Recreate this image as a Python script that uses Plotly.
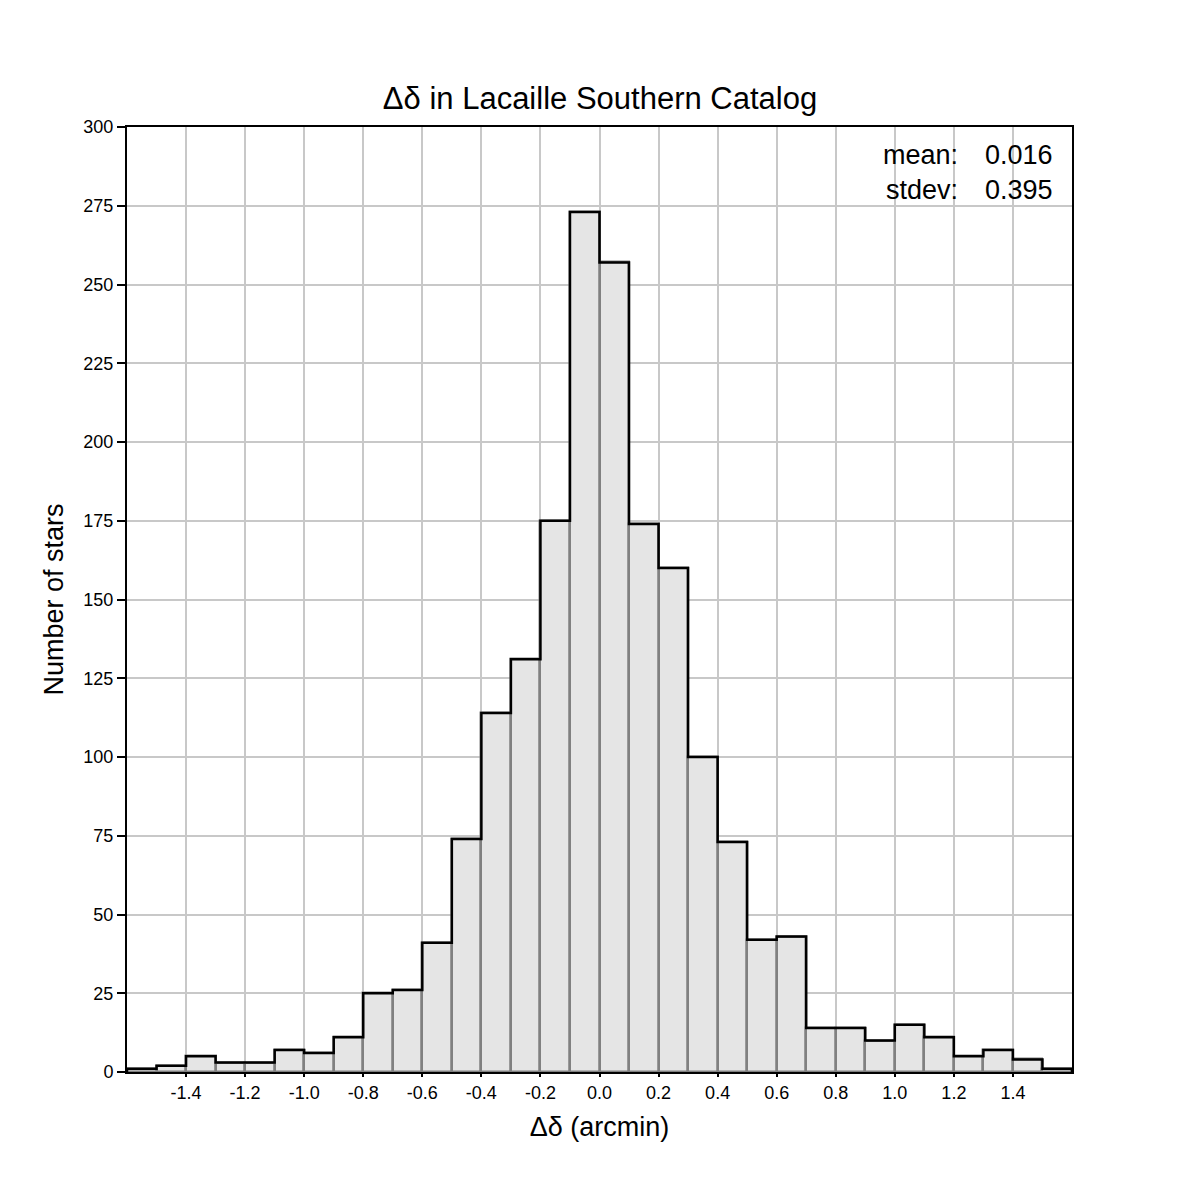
import plotly.graph_objects as go

# bin edges (arcmin) and star counts per bin
bin_edges = [round(-1.6 + 0.1 * i, 1) for i in range(33)]
counts = [1, 2, 5, 3, 3, 7, 6, 11, 25, 26, 41, 74, 114, 131, 175, 273,
          257, 174, 160, 100, 73, 42, 43, 14, 14, 10, 15, 11, 5, 7, 4, 1]
x_ticks = [round(-1.4 + 0.2 * i, 1) for i in range(15)]
x_tick_text = ["%.1f" % v for v in x_ticks]
stat_labels = ["mean:", "stdev:"]
stat_values = ["0.016", "0.395"]

FONT = "Liberation Sans, Arial, sans-serif"


def main():
    fig = plot()
    fig.write_html("out.html")


def plot():
    centers = [(bin_edges[i] + bin_edges[i + 1]) / 2 for i in range(len(counts))]

    fig = go.Figure()
    fig.add_trace(go.Bar(
        x=centers, y=counts, width=0.1,
        marker=dict(color="#e5e5e5", line=dict(color="#808080", width=2.5)),
        hoverinfo="x+y",
    ))
    # black outline over the top of the histogram
    step_x = [bin_edges[0]] + bin_edges
    step_y = [0] + counts + [0]
    fig.add_trace(go.Scatter(
        x=step_x, y=step_y, mode="lines", line_shape="hv",
        line=dict(color="black", width=2.5), hoverinfo="skip",
    ))

    row_y = [0.970, 0.933]
    for lab, val, yy in zip(stat_labels, stat_values, row_y):
        fig.add_annotation(x=0.882, y=yy, xref="paper", yref="paper", text=lab,
                           showarrow=False, xanchor="right", yanchor="middle",
                           font=dict(size=27, color="black", family=FONT))
        fig.add_annotation(x=0.982, y=yy, xref="paper", yref="paper", text=val,
                           showarrow=False, xanchor="right", yanchor="middle",
                           font=dict(size=27, color="black", family=FONT))

    fig.update_layout(
        width=1200, height=1200,
        margin=dict(l=119, r=136, t=119, b=136),
        paper_bgcolor="white", plot_bgcolor="white",
        showlegend=False, bargap=0,
        font=dict(family=FONT, color="black"),
        title=dict(text="Δδ in Lacaille Southern Catalog", x=(600 - 8) / 1200, xanchor="center",
                   y=1 - 90 / 1200, yanchor="middle",
                   font=dict(size=31, family=FONT, color="black")),
    )
    fig.update_xaxes(
        range=[-1.6, 1.6], tickmode="array",
        tickvals=x_ticks, ticktext=x_tick_text,
        showgrid=True, gridcolor="#c8c8c8", gridwidth=1.5,
        showline=True, linecolor="black", linewidth=2, mirror=True,
        ticks="outside", ticklen=3, tickcolor="black", tickwidth=1.5,
        tickfont=dict(size=18, family=FONT), zeroline=False,
        title=dict(text="Δδ (arcmin)", font=dict(size=27, family=FONT), standoff=16),
    )
    fig.update_yaxes(
        range=[0, 300], tickmode="linear", tick0=0, dtick=25,
        showgrid=True, gridcolor="#c8c8c8", gridwidth=1.5,
        showline=True, linecolor="black", linewidth=2, mirror=True,
        ticks="outside", ticklen=8, tickcolor="black", tickwidth=1.5,
        tickfont=dict(size=18, family=FONT), zeroline=False,
        title=dict(text="Number of stars", font=dict(size=27, family=FONT), standoff=12),
    )
    return fig


main()
